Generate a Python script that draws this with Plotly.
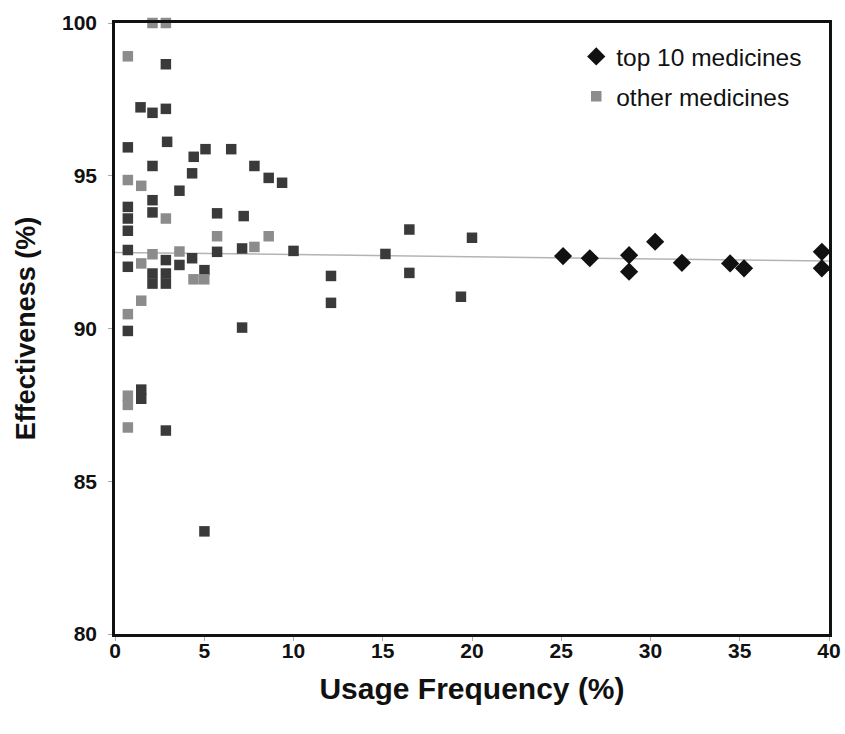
import plotly.graph_objects as go

# ---- data ----
top10_x = [25.1, 26.6, 28.8, 28.8, 30.26, 31.76, 34.46, 35.24, 39.6, 39.6]
top10_y = [92.37, 92.3, 92.4, 91.86, 92.84, 92.15, 92.13, 91.97, 92.51, 91.97]

other_x = [0.72, 2.1, 2.85, 0.72, 1.43, 2.1, 2.85, 2.85, 2.92, 5.07, 6.51, 4.41, 2.1, 7.81,
           4.32, 8.61, 9.36, 0.72, 1.47, 3.61, 0.72, 0.72, 0.72, 2.1, 2.1, 2.85, 5.72, 7.21,
           5.72, 8.61, 0.72, 2.1, 1.47, 0.72, 2.85, 3.61, 3.61, 4.32, 5.72, 7.12, 7.81, 10.0,
           5.01, 4.4, 5.0, 2.1, 2.1, 2.85, 2.85, 12.1, 12.1, 1.47, 0.72, 0.72, 7.12, 1.47,
           1.47, 0.72, 0.72, 0.72, 2.85, 5.01, 15.15, 16.49, 16.49, 20.0, 19.38]
other_y = [98.91, 100.0, 100.0, 95.93, 97.24, 97.06, 97.19, 98.65, 96.11, 95.87, 95.87, 95.62,
           95.32, 95.32, 95.08, 94.93, 94.77, 94.86, 94.67, 94.51, 93.98, 93.6, 93.2, 94.2,
           93.8, 93.6, 93.77, 93.68, 93.02, 93.02, 92.57, 92.43, 92.13, 92.02, 92.24, 92.52,
           92.08, 92.3, 92.51, 92.62, 92.67, 92.54, 91.91, 91.61, 91.61, 91.8, 91.47, 91.8,
           91.47, 91.72, 90.84, 90.91, 90.47, 89.92, 90.03, 88.0, 87.7, 87.8, 87.5, 86.76,
           86.66, 83.36, 92.44, 93.24, 91.82, 92.97, 91.04]
other_tone = ["g", "g", "g", "d", "d", "d", "d", "d", "d", "d", "d", "d",
              "d", "d", "d", "d", "d", "g", "g", "d", "d", "d", "d", "d",
              "d", "g", "d", "d", "g", "g", "d", "g", "g", "d", "d", "g",
              "d", "d", "d", "d", "g", "d", "d", "g", "g", "d", "d", "d",
              "d", "d", "d", "g", "g", "d", "d", "d", "d", "g", "g", "g",
              "d", "d", "d", "d", "d", "d", "d"]

trend_x = [0, 40]
trend_y = [92.49, 92.21]

x_ticks = [0, 5, 10, 15, 20, 25, 30, 35, 40]
y_ticks = [80, 85, 90, 95, 100]

tone_color = {"g": "#8c8c8c", "d": "#3a3a3a"}
other_colors = [tone_color[t] for t in other_tone]

FONT = "Liberation Sans, Arial, sans-serif"

fig = go.Figure()

fig.add_trace(go.Scatter(
    x=trend_x, y=trend_y, mode="lines",
    line=dict(color="#b4b4b4", width=1.5),
    showlegend=False, hoverinfo="skip"))

fig.add_trace(go.Scatter(
    x=top10_x, y=top10_y, mode="markers", name="top 10 medicines",
    marker=dict(symbol="diamond", size=14, color="#111111"),
    legendgroup="a"))

fig.add_trace(go.Scatter(
    x=other_x, y=other_y, mode="markers", name="other medicines",
    marker=dict(symbol="square", size=10.5, color=other_colors),
    cliponaxis=False, legendgroup="b"))

fig.update_layout(
    width=845, height=734,
    margin=dict(l=114.5, r=16, t=22.7, b=99.7, autoexpand=False),
    paper_bgcolor="white", plot_bgcolor="white",
    font=dict(family=FONT, color="#111111"),
    legend=dict(x=0.646, y=0.982, xanchor="left", yanchor="top",
                font=dict(size=24.5, family=FONT, color="#111111"),
                bgcolor="rgba(0,0,0,0)", tracegroupgap=5,
                traceorder="grouped"),
)

fig.update_xaxes(
    range=[0, 40], tickvals=x_ticks, ticktext=[str(v) for v in x_ticks],
    showgrid=False, zeroline=False,
    showline=True, mirror=True, linecolor="#111111", linewidth=2.5,
    ticks="outside", ticklen=4, tickcolor="#aaaaaa",
    ticklabelstandoff=-8,
    tickfont=dict(size=21, family=FONT, color="#111111", weight="bold"),
    title=dict(text="<b>Usage Frequency (%)</b>", font=dict(size=30, family=FONT),
               standoff=18),
)
fig.update_yaxes(
    range=[80, 100], tickvals=y_ticks, ticktext=[str(v) for v in y_ticks],
    showgrid=False, zeroline=False,
    showline=True, mirror=True, linecolor="#111111", linewidth=2.5,
    ticks="outside", ticklen=4, tickcolor="#aaaaaa",
    ticklabelstandoff=7,
    tickfont=dict(size=21, family=FONT, color="#111111", weight="bold"),
    title=dict(text="<b>Effectiveness (%)</b>", font=dict(size=27, family=FONT),
               standoff=19),
)

fig.write_html("out.html",
               config={"displayModeBar": False},
               post_script="document.body.style.margin='0';document.body.style.overflow='hidden';")
